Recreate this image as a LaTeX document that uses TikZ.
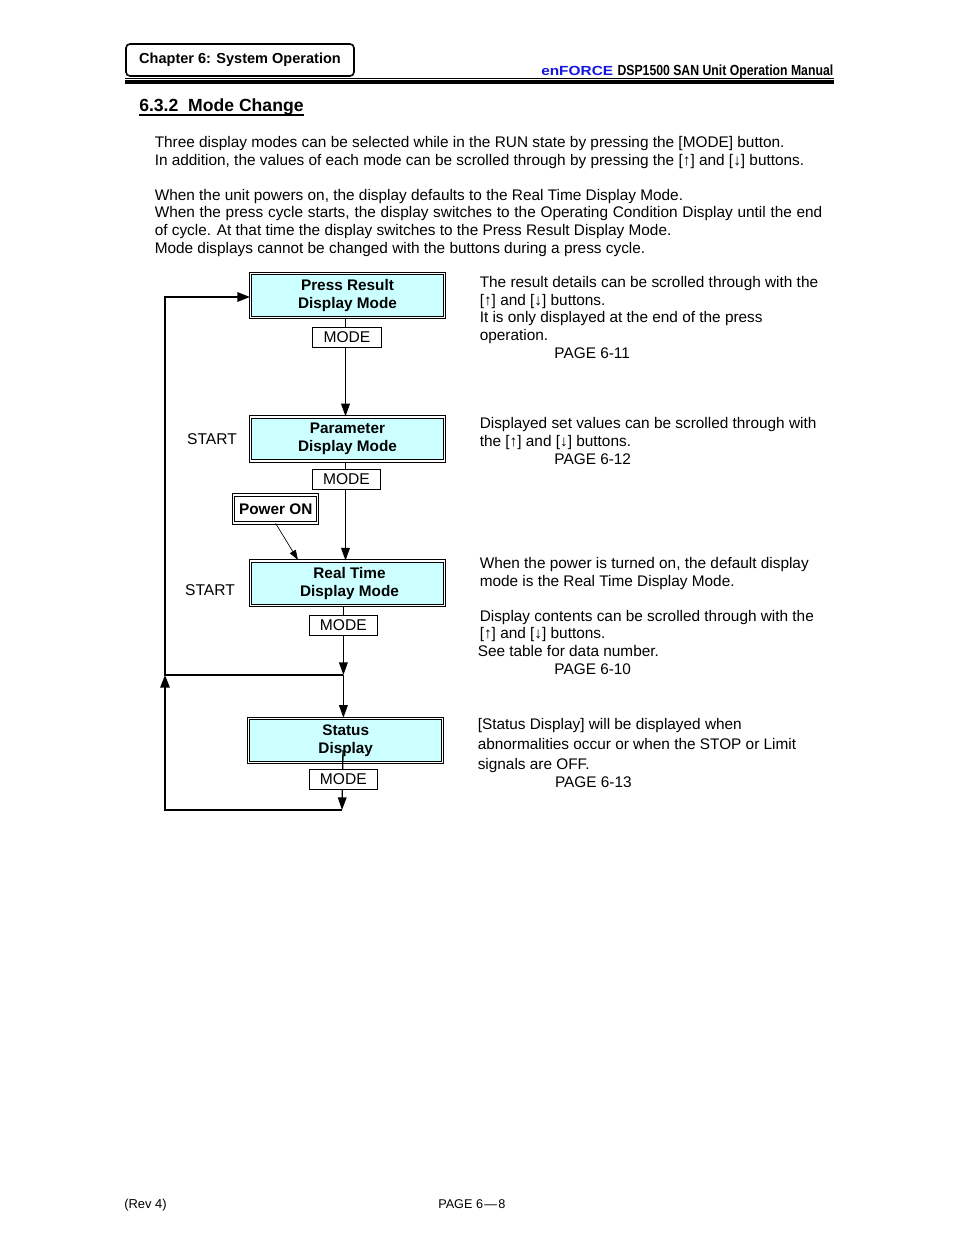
\documentclass[tikz,border=0pt]{standalone}
\usepackage{fontspec}
\usetikzlibrary{arrows.meta}
\setmainfont{Liberation Sans}
\definecolor{modecyan}{RGB}{204,255,255}
\definecolor{logoblue}{RGB}{20,20,230}
\tikzset{
    bodytext/.style={anchor=base west, align=left, inner sep=0pt, font=\fontsize{11.53}{13.2}\selectfont},
    modebox/.style={draw, line width=0.75pt, double, double distance=1pt, fill=modecyan, align=center, minimum width=145.4pt, minimum height=33.2pt, inner sep=0pt, font=\fontsize{11.5}{13.4}\selectfont\bfseries},
    keybox/.style={draw, line width=0.7pt, fill=white, minimum width=51.5pt, minimum height=15.5pt, inner sep=0pt, font=\fontsize{11.7}{13.2}\selectfont},
    flow/.style={line width=1pt, -{Triangle[length=9.5pt, width=6.5pt]}},
    loopflow/.style={line width=1.5pt, -{Triangle[length=9.5pt, width=7pt]}},
}
\begin{document}
\begin{tikzpicture}[x=0.75pt, y=-0.75pt]
    \useasboundingbox (0, 0) rectangle (954, 1235);

    % Page header
    \node[draw, line width=1.2pt, rounded corners=3pt, minimum width=171pt, minimum height=24pt, inner sep=0pt, font=\fontsize{10.9}{12}\selectfont\bfseries] (chapter) at (240, 60) {Chapter 6: System Operation};
    \node[anchor=base west, inner sep=0pt, text=logoblue, font=\fontsize{11}{12}\selectfont\bfseries] (logo) at (541, 75) {\scalebox{1.05}[0.9]{enFORCE}};
    \node[anchor=base east, inner sep=0pt, font=\fontsize{11}{12}\selectfont\bfseries] (manual) at (833.5, 75) {\scalebox{0.835}[1]{DSP1500 SAN Unit Operation Manual}};
    \coordinate (ruleleft) at (125, 78);
    \coordinate (ruleright) at (834, 78);
    \draw[line width=0.6pt] (ruleleft) -- (ruleright);
    \draw[line width=3pt] ([yshift=-3.2pt]ruleleft) -- ([yshift=-3.2pt]ruleright);
    \node[anchor=base west, inner sep=0pt, font=\fontsize{13.2}{15}\selectfont\bfseries] (section) at (139, 111.3) {6.3.2\ \ Mode Change};
    \draw[line width=1.1pt] ([yshift=-2.6pt]section.base west) -- ([yshift=-2.6pt]section.base east);

    % Introduction
    \node[bodytext] (intro) at (154.5, 253) {Three display modes can be selected while in the RUN state by pressing the [MODE] button.\\
        In addition, the values of each mode can be scrolled through by pressing the [↑] and [↓] buttons.\\[13.2pt]
        When the unit powers on, the display defaults to the Real Time Display Mode.\\
        \hbox spread 5.3pt{When the press cycle starts, the display switches to the Operating Condition Display until the end}\\
        of cycle. At that time the display switches to the Press Result Display Mode.\\
        Mode displays cannot be changed with the buttons during a press cycle.};

    % Display modes
    \node[modebox] (press) at (347.5, 295.6) {Press Result\\Display Mode};
    \node[modebox] (param) at (347.5, 439) {Parameter\\Display Mode};
    \node[modebox] (realtime) at (347.5, 583.2) {\hspace*{3pt}Real Time\\\hspace*{3pt}Display Mode};
    \node[modebox] (status) at (345.7, 740.4) {Status\\Display};
    \node[draw, line width=0.7pt, double, double distance=1pt, inner sep=0pt, minimum width=63pt, minimum height=21pt, font=\fontsize{11.5}{13}\selectfont\bfseries] (power) at (275.7, 509) {Power ON};

    \node[inner sep=0pt, font=\fontsize{11.7}{13}\selectfont] (startparam) at (212, 438.8) {START};
    \node[inner sep=0pt, font=\fontsize{11.7}{13}\selectfont] (startreal) at (210, 590.3) {START};

    % Corners and joints
    \coordinate (upperline) at (345.5, 0);
    \coordinate (joinmid) at (343.4, 675);
    \coordinate (joinlow) at (342, 810);
    \coordinate (statusin) at (343, 750);
    \coordinate (leftmid) at (165, 675);
    \coordinate (leftlow) at (165, 810);
    \coordinate (lefttop) at (165, 297);
    \coordinate (powerin) at (298, 560);

    % Connectors
    \draw[loopflow] (joinmid) -- (leftmid) -- (lefttop) -- (press.west |- lefttop);
    \draw[loopflow] (joinlow) -- (leftlow) -- (leftmid);
    \draw[flow] (press.south -| upperline) -- (param.north -| upperline);
    \draw[flow] (param.south -| upperline) -- (realtime.north -| upperline);
    \draw[line width=0.5pt, -{Triangle[length=7.5pt, width=5pt]}] (power.south) -- (powerin);
    \draw[flow] (realtime.south -| joinmid) -- (joinmid);
    \draw[flow] (joinmid) -- (status.north -| joinmid);
    \draw[flow] (statusin) -- (joinlow);

    % Mode buttons
    \node[keybox] (keyone) at (347, 337.4) {MODE};
    \node[keybox] (keytwo) at (346.5, 479.4) {MODE};
    \node[keybox] (keythree) at (343.3, 625.4) {MODE};
    \node[keybox] (keyfour) at (343.3, 779.4) {MODE};

    % Descriptions
    \node[bodytext] (textpress) at (479.5, 358) {The result details can be scrolled through with the\\
        {[}↑] and [↓] buttons.\\
        It is only displayed at the end of the press\\
        operation.\\
        \hspace*{56pt}PAGE 6-11};
    \node[bodytext] (textparam) at (479.5, 464) {Displayed set values can be scrolled through with\\
        the [↑] and [↓] buttons.\\
        \hspace*{56pt}PAGE 6-12};
    \node[bodytext] (textreal) at (479.5, 674) {When the power is turned on, the default display\\
        mode is the Real Time Display Mode.\\[13.2pt]
        Display contents can be scrolled through with the\\
        {[}↑] and [↓] buttons.\\
        \hspace*{-1.5pt}See table for data number.\\
        \hspace*{56pt}PAGE 6-10};
    \node[bodytext, font=\fontsize{11.53}{15.3}\selectfont] (textstatus) at (477.5, 787) {{[}Status Display] will be displayed when\\
        abnormalities occur or when the STOP or Limit\\
        signals are OFF.\\[-2.4pt]
        \hspace*{58pt}PAGE 6-13};

    % Page footer
    \node[anchor=base west, inner sep=0pt, font=\fontsize{9.7}{11}\selectfont] (rev) at (124, 1208) {(Rev 4)};
    \node[anchor=base west, inner sep=0pt, font=\fontsize{9.5}{11}\selectfont] (pageno) at (438, 1208) {PAGE 6\kern1pt—\kern1pt8};
\end{tikzpicture}
\end{document}
